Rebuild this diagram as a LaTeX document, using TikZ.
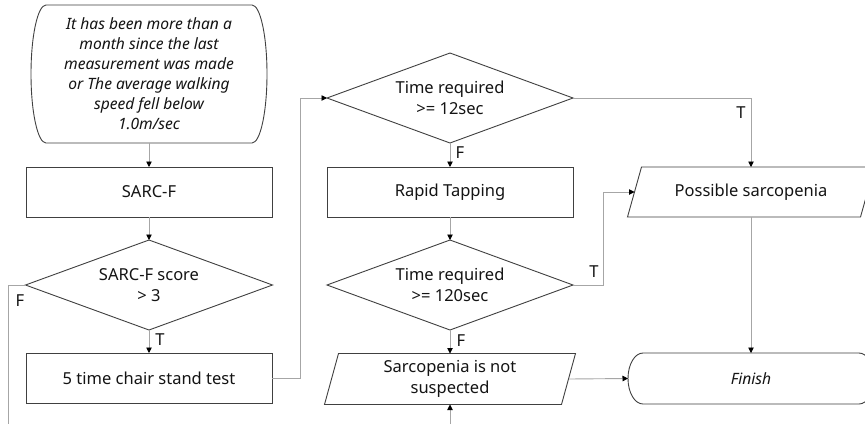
\documentclass[tikz,border=0pt]{standalone}
\usepackage{fontspec}
\setmainfont{Noto Sans}
\usetikzlibrary{arrows.meta}

\definecolor{outline}{HTML}{404040}
\definecolor{wirecol}{HTML}{A6A6A6}
\definecolor{inkcol}{HTML}{141414}

\tikzset{
  base/.style={inner sep=0pt, outer sep=0pt, align=center, text=inkcol,
    font=\fontsize{16.5}{21}\selectfont},
  shapeline/.style={draw=outline, line width=0.9pt, line join=miter},
  box/.style={base, shapeline, minimum width=246pt, minimum height=50pt},
  hollow/.style={base},
  termtext/.style={font=\fontsize{15.6}{20}\selectfont\itshape},
  wire/.style={draw=wirecol, line width=0.9pt},
  flow/.style={wire, -{Triangle[length=5.5pt,width=5.5pt,color=black]}},
  lab/.style={base}
}

% slanted input/output box around a plain node
\newcommand{\drawio}[1]{%
  \draw[shapeline] ([xshift=7pt]#1.north west) -- ([xshift=7pt]#1.north east)
    -- ([xshift=-7pt]#1.south east) -- ([xshift=-7pt]#1.south west) -- cycle;}
% decision diamond through the four side midpoints
\newcommand{\drawdecision}[1]{%
  \draw[shapeline] (#1.north) -- (#1.east) -- (#1.south) -- (#1.west) -- cycle;}
% terminal with half-elliptic ends (second argument: half height)
\newcommand{\drawterm}[2]{%
  \draw[shapeline] ([xshift=15pt]#1.north west) -- ([xshift=-15pt]#1.north east)
    arc[start angle=90, end angle=-90, x radius=15pt, y radius=#2]
    -- ([xshift=15pt]#1.south west)
    arc[start angle=270, end angle=90, x radius=15pt, y radius=#2] -- cycle;}

\begin{document}
\begin{tikzpicture}[x=1pt, y=-1pt]
  \useasboundingbox (0,0) rectangle (865,424);
  \fill[white] (0,0) rectangle (865,424);
  \clip (0,0) rectangle (865,424);

  % left column
  \node[hollow, termtext, minimum width=236pt, minimum height=138pt]
    (start) at (149,74) {It has been more than a\\month since the last\\measurement was made\\or The average walking\\speed fell below\\1.0m/sec};
  \drawterm{start}{69pt}
  \node[box] (sarcf) at (149,192) {SARC-F};
  \node[hollow, minimum width=247pt, minimum height=90pt] (d1) at (149,285) {SARC-F score\\> 3};
  \drawdecision{d1}
  \node[box] (chair) at (149,378) {5 time chair stand test};

  % middle column
  \node[hollow, minimum width=246pt, minimum height=90pt] (d2) at (450,98) {Time required\\>= 12sec};
  \drawdecision{d2}
  \node[box] (rapid) at (450,192) {Rapid Tapping};
  \node[hollow, minimum width=246pt, minimum height=90pt] (d3) at (450,285) {Time required\\>= 120sec};
  \drawdecision{d3}
  \node[hollow, minimum width=237pt, minimum height=51pt] (notsusp) at (450,379) {Sarcopenia is not\\suspected};
  \drawio{notsusp}

  % right column
  \node[hollow, minimum width=233pt, minimum height=50pt] (possible) at (751,192) {Possible sarcopenia};
  \drawio{possible}
  \node[hollow, termtext, minimum width=246pt, minimum height=51pt]
    (finish) at (751,378.5) {Finish};
  \drawterm{finish}{25.5pt}

  % loose ends running off the lower edge
  \coordinate (fout) at (8,424);
  \coordinate (fin) at (450,424);

  % connectors
  \draw[flow] (start.south) -- (sarcf.north);
  \draw[flow] (sarcf.south) -- (d1.north);
  \draw[flow] (d1.south) -- (chair.north);
  \draw[wire] (d1.west) -| (fout);
  \draw[flow] (chair.east) -- ++(28,0) |- (d2.west);
  \draw[flow] (d2.south) -- (rapid.north);
  \draw[flow] (d2.east) -| (possible.north);
  \draw[flow] (rapid.south) -- (d3.north);
  \draw[flow] (d3.south) -- (notsusp.north);
  \draw[flow] (d3.east) -- ++(30,0) |- (possible.west);
  \draw[flow] (possible.south) -- (finish.north);
  \draw[flow] (notsusp.east) -- (finish.west);
  \draw[flow] (fin) -- (notsusp.south);

  % branch labels
  \node[lab] (lf1) at (20,301) {F};
  \node[lab] (lt1) at (160,340) {T};
  \node[lab] (lf2) at (460,153) {F};
  \node[lab] (lt2) at (741,113) {T};
  \node[lab] (lt3) at (594,272) {T};
  \node[lab] (lf3) at (461,341) {F};
\end{tikzpicture}
\end{document}
